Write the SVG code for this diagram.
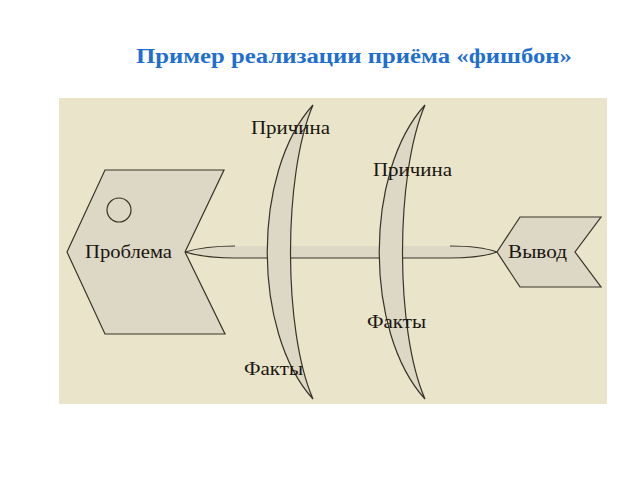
<svg xmlns="http://www.w3.org/2000/svg" width="640" height="480" viewBox="0 0 640 480">
  <style>
    .shape { fill: #ddd7c6; stroke: #3a3428; stroke-width: 1.2; }
    .fillonly { fill: #ddd7c6; stroke: none; }
    .edge { fill: none; stroke: #3a3428; stroke-width: 1.2; }
    .lbl { font-family: "Liberation Serif", "Times New Roman", serif; font-size: 18px; fill: #1a1610; }
    .title { font-family: "Liberation Serif", "Times New Roman", serif; font-size: 22px; font-weight: bold; fill: #1f6fd0; }
  </style>
  <rect width="640" height="480" fill="#ffffff"/>
  <text class="title" x="136" y="63" textLength="436" lengthAdjust="spacingAndGlyphs">Пример реализации приёма «фишбон»</text>
  <rect id="background" x="59" y="98" width="548" height="306" fill="#e9e4ca"/>

  <g id="connectors">
    <path class="fillonly" d="M185,252 Q205,246 235,246 L450,246 Q480,246 497,252 Q480,258 450,258 L235,258 Q205,258 185,252 Z"/>
    <path class="edge" d="M235,246 Q205,246 185,252 Q205,258 235,258 L450,258 Q480,258 497,252 Q480,246 450,246"/>
  </g>

  <g id="problem">
    <polygon class="shape" points="105,170 224,170 185,252 225,334 105,334 67,252"/>
    <circle class="shape" cx="119" cy="210" r="12"/>
    <text class="lbl" x="85" y="258" textLength="87" lengthAdjust="spacingAndGlyphs">Проблема</text>
  </g>

  <g id="bone1">
    <path class="shape" d="M313,105 C252,172 252,332 313,399 C283,330 283,175 313,105 Z"/>
    <text class="lbl" x="251" y="134" textLength="79" lengthAdjust="spacingAndGlyphs">Причина</text>
    <text class="lbl" x="244" y="375" textLength="59" lengthAdjust="spacingAndGlyphs">Факты</text>
  </g>

  <g id="bone2">
    <path class="shape" d="M425,105 C364,172 364,332 425,399 C395,330 395,175 425,105 Z"/>
    <text class="lbl" x="373" y="176" textLength="79" lengthAdjust="spacingAndGlyphs">Причина</text>
    <text class="lbl" x="367" y="328" textLength="59" lengthAdjust="spacingAndGlyphs">Факты</text>
  </g>

  <g id="conclusion">
    <polygon class="shape" points="520,217 601,217 575,252 601,287 520,287 497,252"/>
    <text class="lbl" x="508" y="258" textLength="59" lengthAdjust="spacingAndGlyphs">Вывод</text>
  </g>
</svg>
